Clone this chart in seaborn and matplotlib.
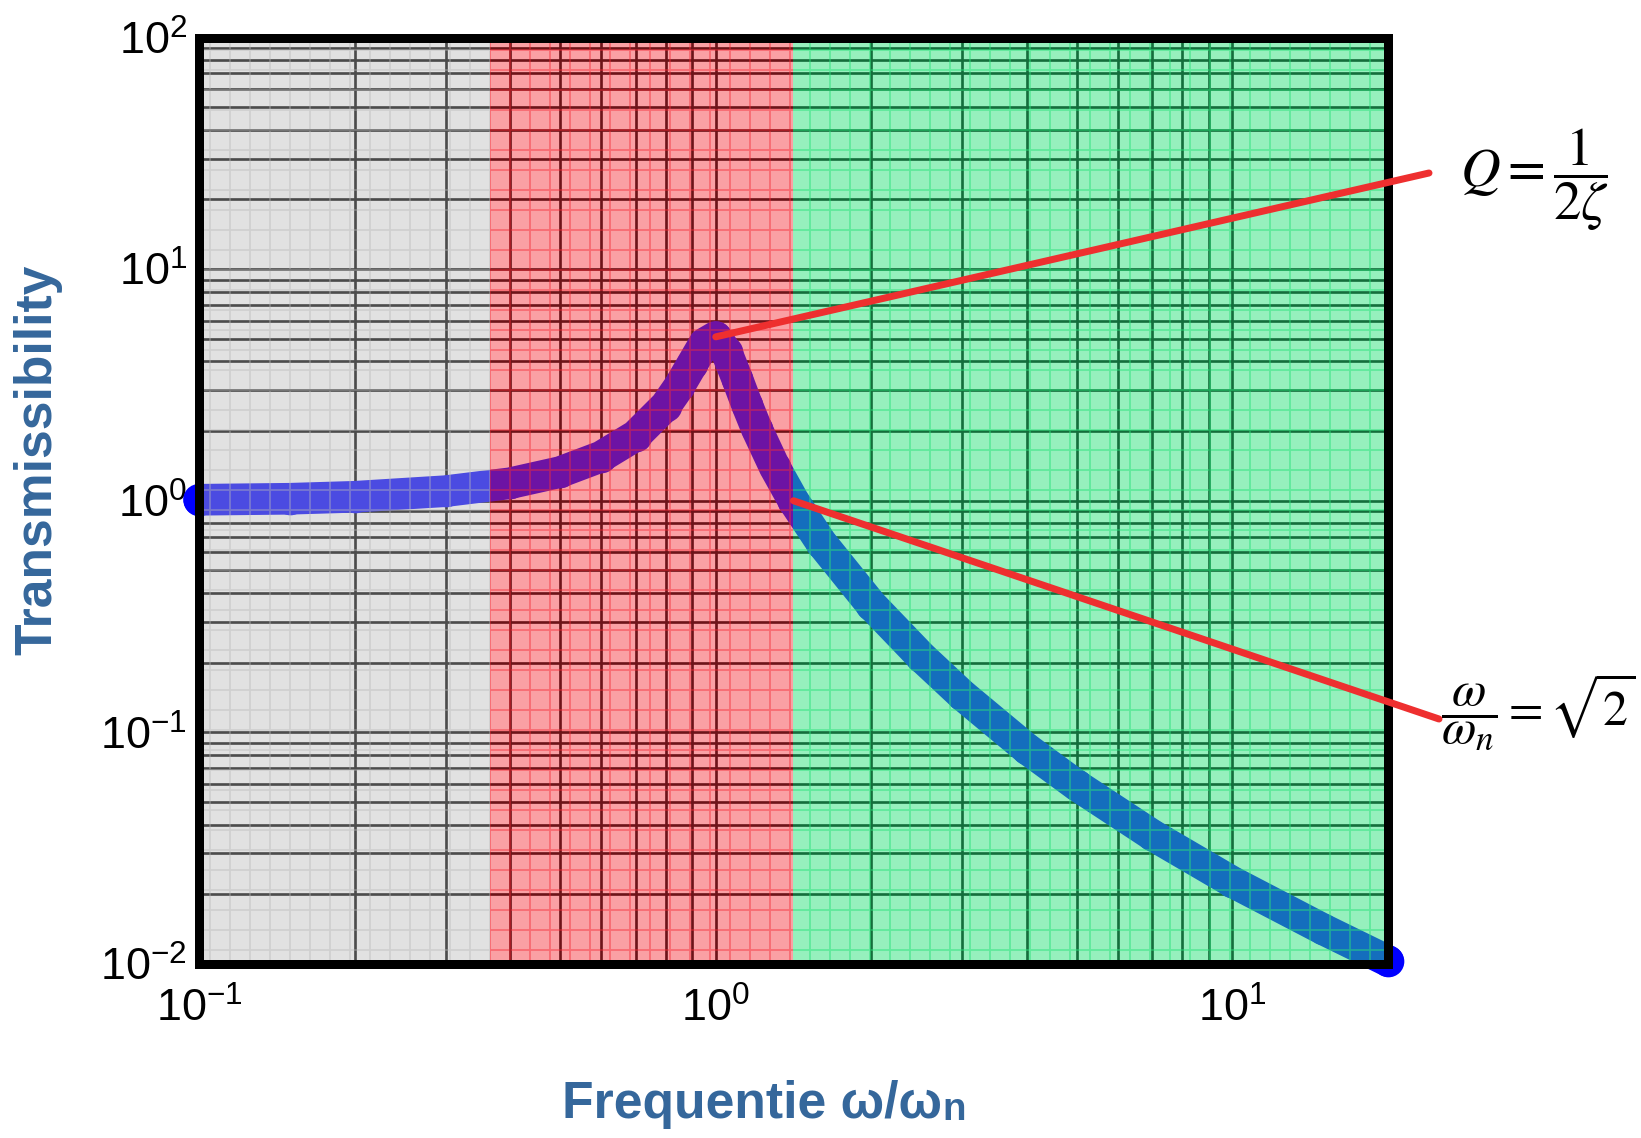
import matplotlib
matplotlib.use("Agg")
import matplotlib.pyplot as plt
import seaborn as sns
from matplotlib.ticker import NullFormatter

# curve (frequency ratio vs transmissibility)
freq_ratio = [0.1, 0.15, 0.2, 0.3, 0.4, 0.5, 0.6, 0.7, 0.8, 0.85, 0.9, 0.95,
              1.0, 1.05, 1.1, 1.15, 1.2, 1.3, 1.414, 1.6, 2.0, 2.5, 3.0, 4.0,
              5.0, 7.0, 10.0, 15.0, 20.0]
transmissibility = [1.01, 1.02, 1.04, 1.10, 1.19, 1.33, 1.55, 1.91, 2.57, 3.12,
                    3.88, 4.77, 5.10, 4.37, 3.37, 2.59, 2.05, 1.40, 1.00, 0.66,
                    0.356, 0.212, 0.145, 0.085, 0.059, 0.036, 0.0226, 0.0141,
                    0.0103]

# shaded regions (edges along the frequency axis)
region_edges = [0.1, 0.365, 1.414, 20.0]
region_colors = ["#b7b7b7", "#f42c37", "#29e17a"]
region_alpha = [0.41, 0.45, 0.49]

sns.set_theme(style="white")
plt.rcParams["font.family"] = ["Liberation Sans", "DejaVu Sans"]
plt.rcParams["hatch.linewidth"] = 1.1

label_color = "#35679b"
red = "#ee2f2f"

fig = plt.figure(figsize=(1641 / 120, 1138 / 120), dpi=120)
ax = fig.add_axes([199 / 1641, 1 - 964 / 1138, (1388 - 199) / 1641, (964 - 37.5) / 1138])

sns.lineplot(x=freq_ratio, y=transmissibility, ax=ax, color="#0000ff", lw=19,
             marker="o", markersize=19, markeredgewidth=0, zorder=1.5,
             clip_on=False, solid_capstyle="round", solid_joinstyle="round")

ax.set(xscale="log", yscale="log")
ax.set_xlim(0.1, 20)
ax.set_ylim(0.01, 100)

for i in range(len(region_colors)):
    ax.axvspan(region_edges[i], region_edges[i + 1], facecolor=region_colors[i],
               edgecolor=region_colors[i], alpha=region_alpha[i], hatch="+",
               lw=0, zorder=2)

ax.set_axisbelow(True)
ax.grid(True, which="both", color="black", lw=1.6)
ax.xaxis.set_minor_formatter(NullFormatter())
ax.yaxis.set_minor_formatter(NullFormatter())
ax.tick_params(which="both", length=0, labelsize=27, colors="black")
ax.tick_params(axis="x", pad=14)
ax.tick_params(axis="y", pad=7)

for s in ax.spines.values():
    s.set_linewidth(5.4)
    s.set_color("black")
    s.set_zorder(3)

ax.set_xlabel("Frequentie ω/ω", fontsize=31, fontweight="bold", color=label_color)
ax.xaxis.set_label_coords(0.465, -0.125)
ax.annotate("n", xy=(1, 0.18), xycoords=ax.xaxis.label, ha="left", va="baseline",
            fontsize=23, fontweight="bold", color=label_color)
ax.set_ylabel("Transmissibility", fontsize=31, fontweight="bold", color=label_color)
ax.yaxis.set_label_coords(-0.115, 0.544)

# pointer lines to the formulas
ax.annotate("", xy=(1.0, 5.1), xytext=(1429 / 1641, 1 - 173 / 1138),
            textcoords="figure fraction", annotation_clip=False,
            arrowprops=dict(arrowstyle="-", color=red, lw=4.2, shrinkA=0, shrinkB=0),
            zorder=5)
ax.annotate("", xy=(1.414, 1.0), xytext=(1439 / 1641, 1 - 719 / 1138),
            textcoords="figure fraction", annotation_clip=False,
            arrowprops=dict(arrowstyle="-", color=red, lw=4.2, shrinkA=0, shrinkB=0),
            zorder=5)

fig.text(1534 / 1641, 1 - 180 / 1138, r"$Q = \dfrac{1}{2\zeta}$", fontsize=33,
         ha="center", va="center", math_fontfamily="stix", color="black")
fig.text(1636 / 1641, 1 - 712 / 1138, r"$\dfrac{\omega}{\omega_n} = \sqrt{2}$",
         fontsize=30, ha="right", va="center", math_fontfamily="stix", color="black")

fig.savefig("out.png", dpi=120)
